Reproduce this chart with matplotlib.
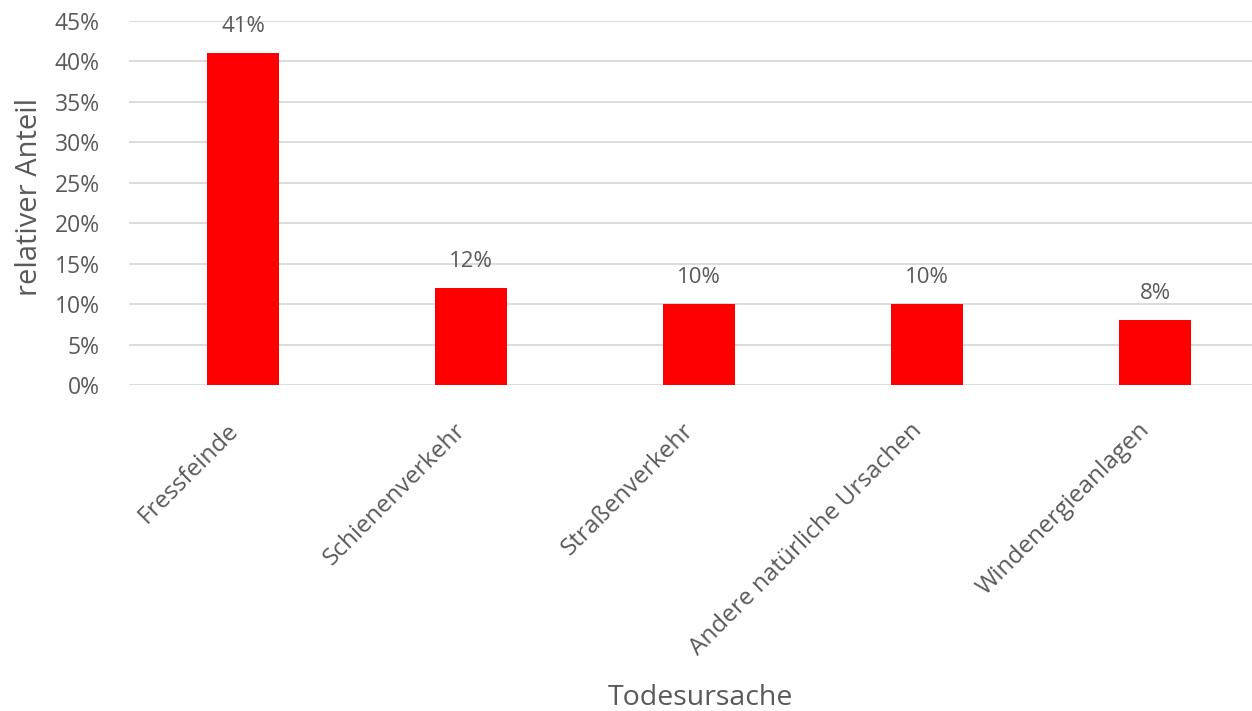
import matplotlib
matplotlib.use("Agg")
import matplotlib.pyplot as plt
from matplotlib.ticker import FuncFormatter, MultipleLocator

categories = ["Fressfeinde", "Schienenverkehr", "Straßenverkehr",
              "Andere natürliche Ursachen", "Windenergieanlagen"]
values = [41, 12, 10, 10, 8]
value_labels = ["41%", "12%", "10%", "10%", "8%"]

plt.rcParams['font.family'] = ['Open Sans', 'DejaVu Sans']
text_color = "#595959"

fig = plt.figure(figsize=(12.52, 7.11), dpi=100)
ax = fig.add_axes([129/1252, (711-385)/711, 1140/1252, (385-21)/711])

x = list(range(len(categories)))
ax.bar(x, values, width=0.32, color="#FF0000", zorder=3)
ax.set_xlim(-0.5, len(categories) - 0.5)
ax.set_ylim(0, 45)
ax.yaxis.set_major_locator(MultipleLocator(5))
ax.yaxis.set_major_formatter(FuncFormatter(lambda v, p: f"{v:.0f}%"))
ax.grid(axis='y', color="#D9D9D9", linewidth=1.3, zorder=0)
for s in ax.spines.values():
    s.set_visible(False)
ax.tick_params(axis='both', length=0, colors=text_color)
ax.tick_params(axis='y', pad=21, labelsize=16.5)
ax.tick_params(axis='x', pad=24, labelsize=17.5)
ax.set_xticks(x)
ax.set_xticklabels(categories, rotation=45, ha='right', va='top')

for xi, v, lab in zip(x, values, value_labels):
    ax.annotate(lab, (xi, v), xytext=(0, 19), textcoords='offset points',
                ha='center', va='center', fontsize=16, color=text_color)

fig.text(700/1252, 1 - 698/711, "Todesursache", ha='center', va='center',
         fontsize=20.5, color=text_color)
fig.text(30/1252, 1 - 197/711, "relativer Anteil", ha='center', va='center',
         rotation=90, fontsize=21, color=text_color)

fig.savefig("out.png", dpi=100)
